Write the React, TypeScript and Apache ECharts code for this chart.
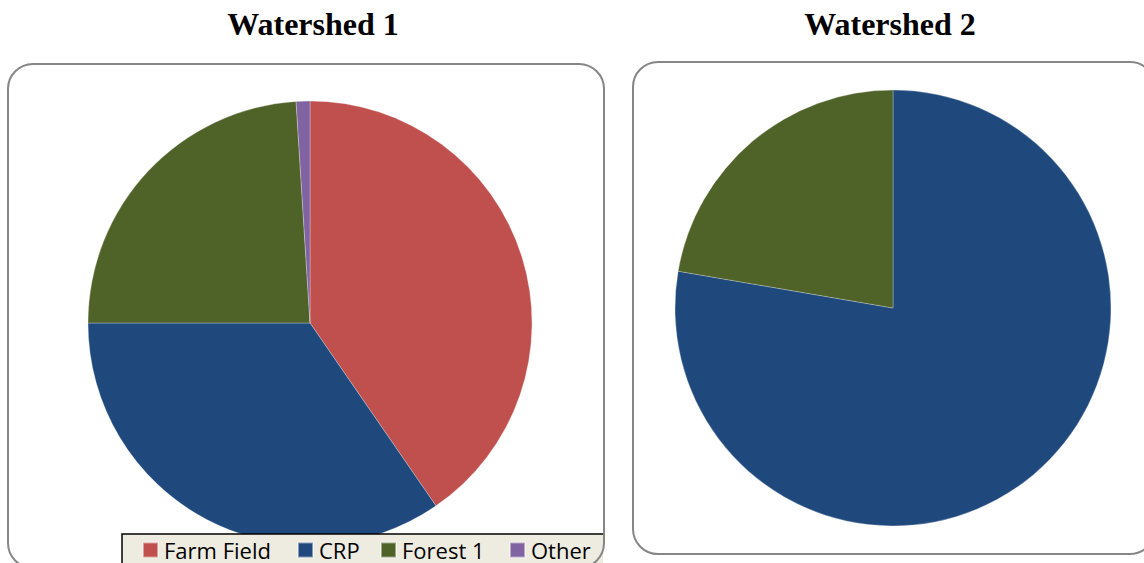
import React, { useEffect, useRef } from "react";
import * as echarts from "echarts";

const categories1 = ["Farm Field", "CRP", "Forest 1", "Other"];
const values1 = [40.4, 34.6, 24.0, 1.0];
const categories2 = ["CRP", "Forest 1"];
const values2 = [77.7, 22.3];
const titles = ["Watershed 1", "Watershed 2"];

const colorMap: Record<string, string> = {
  "Farm Field": "#C0504D",
  CRP: "#1F497D",
  "Forest 1": "#4F6228",
  Other: "#8064A2",
};

const legendLefts = [142, 297, 380, 509];

export default function App() {
  const ref = useRef<HTMLDivElement>(null);
  useEffect(() => {
    if (!ref.current) return;
    const chart = echarts.init(ref.current, undefined, { renderer: "svg" });
    const mk = (cats: string[], vals: number[]) =>
      cats.map((c, i) => ({ name: c, value: vals[i], itemStyle: { color: colorMap[c] } }));
    const pieCommon = {
      type: "pie",
      startAngle: 90,
      clockwise: true,
      label: { show: false },
      labelLine: { show: false },
      emphasis: { disabled: true },
      itemStyle: { borderColor: "rgba(255,255,255,0.45)", borderWidth: 0.6 },
      z: 2,
    };
    const titleStyle = { fontFamily: "Liberation Serif", fontWeight: "bold", fontSize: 32, color: "#000" };
    chart.setOption({
      animation: false,
      backgroundColor: "#ffffff",
      title: [
        { text: titles[0], left: 308, top: 3, textAlign: "center", textStyle: titleStyle },
        { text: titles[1], left: 885, top: 3, textAlign: "center", textStyle: titleStyle },
      ],
      legend: categories1.map((c, i) => ({
        data: [c],
        left: legendLefts[i],
        top: 539,
        padding: 0,
        itemWidth: 15,
        itemHeight: 15,
        icon: "rect",
        selectedMode: false,
        z: 20,
        textStyle: {
          fontFamily: "Open Sans",
          fontSize: 22,
          lineHeight: 18,
          color: "#000",
          padding: [0, 0, 0, 1],
        },
      })),
      graphic: [
        {
          type: "rect",
          z: 15,
          shape: { x: 122, y: 534, width: 481, height: 29 },
          style: { fill: "#EEECE1" },
        },
        {
          type: "polyline",
          z: 15,
          shape: { points: [[122, 563], [122, 534], [603, 534]] },
          style: { fill: "none", stroke: "#000", lineWidth: 1.5 },
        },
        {
          type: "rect",
          z: 16,
          shape: { x: 8, y: 64, width: 596, height: 504, r: 25 },
          style: { fill: "none", stroke: "#868686", lineWidth: 2 },
        },
        {
          type: "rect",
          z: 16,
          shape: { x: 633, y: 62, width: 522, height: 492, r: 25 },
          style: { fill: "none", stroke: "#868686", lineWidth: 2 },
        },
      ],
      series: [
        { ...pieCommon, name: titles[0], center: [310, 323], radius: 222, data: mk(categories1, values1) },
        { ...pieCommon, name: titles[1], center: [893, 308], radius: 218, data: mk(categories2, values2) },
      ],
    });
    return () => chart.dispose();
  }, []);
  return (
    <div
      ref={ref}
      style={{ position: "fixed", left: 0, top: 0, width: 1144, height: 563 }}
    />
  );
}
